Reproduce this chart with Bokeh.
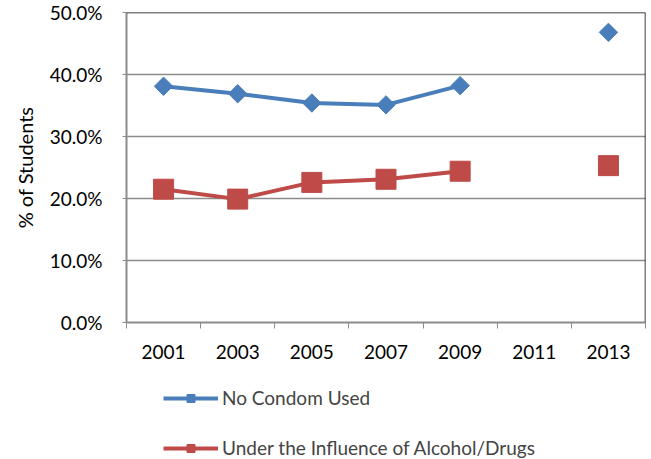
import numpy as np
from bokeh.plotting import figure
from bokeh.layouts import column
from bokeh.models import (Range1d, FixedTicker, NumeralTickFormatter, CustomJSTickFormatter,
                          Span, Legend, LegendItem, ColumnDataSource)
from bokeh.embed import file_html
from bokeh.resources import INLINE

years = ["2001", "2003", "2005", "2007", "2009", "2011", "2013"]
no_condom = [38.1, 36.9, 35.4, 35.1, 38.2, np.nan, 46.8]
influence = [21.5, 19.9, 22.6, 23.1, 24.4, np.nan, 25.3]
y_ticks = [0, 10, 20, 30, 40, 50]
series_names = ["No Condom Used", "Under the Influence of Alcohol/Drugs"]

BLUE = "#4a7ebb"
RED = "#be4b48"
GRID = "#8c8c8c"
FONT = "Lato"
FS = "19px"

xpos = [i + 0.5 for i in range(len(years))]
src = ColumnDataSource(dict(
    x=xpos,
    nc=[v / 100 for v in no_condom],
    inf=[v / 100 for v in influence],
))

p = figure(width=651, height=372, output_backend="svg", toolbar_location=None,
           x_range=Range1d(0, len(years)), y_range=Range1d(0, 0.5),
           min_border_left=126, min_border_top=12, min_border_right=6, min_border_bottom=50)
p.outline_line_color = None
p.background_fill_color = "white"
p.border_fill_color = "white"

# axes
p.xaxis.ticker = FixedTicker(ticks=xpos, minor_ticks=list(range(len(years) + 1)))
p.xaxis.formatter = CustomJSTickFormatter(args=dict(years=years),
                                          code="return years[Math.round(tick - 0.5)];")
p.xaxis.major_tick_out = 0
p.xaxis.major_tick_in = 0
p.xaxis.minor_tick_out = 6
p.xaxis.minor_tick_in = 0
p.xaxis.minor_tick_line_color = GRID
p.xaxis.axis_line_color = GRID
p.xaxis.axis_line_width = 2
p.xaxis.major_label_standoff = 16
p.xaxis.major_label_text_font = FONT
p.xaxis.major_label_text_font_size = FS
p.xaxis.major_label_text_color = "black"

p.yaxis.ticker = FixedTicker(ticks=[v / 100 for v in y_ticks])
p.yaxis.formatter = NumeralTickFormatter(format="0.0%")
p.yaxis.major_tick_out = 4
p.yaxis.major_tick_in = 0
p.yaxis.major_tick_line_color = GRID
p.yaxis.minor_tick_line_color = None
p.yaxis.axis_line_color = GRID
p.yaxis.axis_line_width = 2
p.yaxis.major_label_text_font = FONT
p.yaxis.major_label_text_font_size = FS
p.yaxis.major_label_text_color = "black"
p.yaxis.major_label_standoff = 20
p.yaxis.axis_label = "% of Students"
p.yaxis.axis_label_text_font = FONT
p.yaxis.axis_label_text_font_size = "20px"
p.yaxis.axis_label_text_font_style = "normal"
p.yaxis.axis_label_text_color = "black"
p.yaxis.axis_label_standoff = 10

p.xgrid.grid_line_color = None
p.ygrid.grid_line_color = GRID
p.ygrid.grid_line_width = 1.5

p.add_layout(Span(location=0.5, dimension="width", line_color="black", line_width=1.5))
p.add_layout(Span(location=len(years), dimension="height", line_color="black", line_width=1.5))

# series
p.line("x", "nc", source=src, color=BLUE, line_width=4)
p.scatter("x", "nc", source=src, marker="square", angle=np.pi / 4, size=13, color=BLUE)
p.line("x", "inf", source=src, color=RED, line_width=4)
p.scatter("x", "inf", source=src, marker="square", size=20, color=RED)

# legend figure below (its frame is aligned with the main frame by the column layout)
p2 = figure(width=651, height=87, output_backend="svg", toolbar_location=None,
            x_axis_location=None, y_axis_location=None,
            x_range=Range1d(100, 101), y_range=Range1d(100, 101),
            min_border_left=0, min_border_right=0, min_border_top=0, min_border_bottom=0)
p2.outline_line_color = None
p2.grid.grid_line_color = None
l1 = p2.line("x", "nc", source=src, color=BLUE, line_width=4)
m1 = p2.scatter("x", "nc", source=src, marker="square", angle=np.pi / 4, size=7, color=BLUE)
l2 = p2.line("x", "inf", source=src, color=RED, line_width=4)
m2 = p2.scatter("x", "inf", source=src, marker="square", size=11, color=RED)

legend = Legend(items=[LegendItem(label=series_names[0], renderers=[l1, m1]),
                       LegendItem(label=series_names[1], renderers=[l2, m2])],
                orientation="vertical", location=(37, 0))
legend.glyph_width = 55
legend.glyph_height = 20
legend.label_height = 20
legend.label_text_font = FONT
legend.label_text_font_size = FS
legend.label_standoff = 4
legend.spacing = 27
legend.padding = 0
legend.margin = 0
legend.border_line_color = None
legend.background_fill_alpha = 0
p2.add_layout(legend)

layout = column(p, p2, spacing=0)
open("out.html", "w").write(file_html(layout, INLINE))
